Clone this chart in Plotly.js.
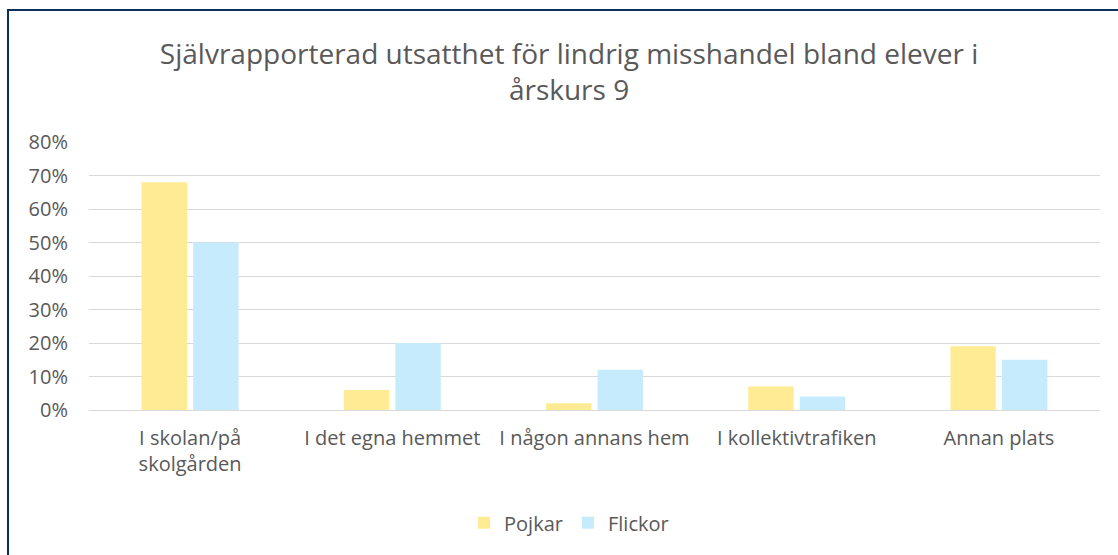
<!DOCTYPE html>
<html>
<head>
<meta charset="utf-8">
<script src="https://cdn.plot.ly/plotly-3.0.1.min.js"></script>
<style>
  html, body { margin: 0; padding: 0; background: #fff; }
  #wrap { position: relative; width: 1118px; height: 555px; overflow: hidden; }
  #chart { position: absolute; left: 0; top: 0; width: 1118px; height: 555px; }
  #frame { position: absolute; left: 7px; top: 9px; width: 1200px; height: 700px;
           border-left: 2px solid #0b2e5b; border-top: 2px solid #0b2e5b; pointer-events: none; }
</style>
</head>
<body>
<div id="wrap">
  <div id="chart"></div>
  <div id="frame"></div>
</div>
<script>
const categories = ["I skolan/på<br>skolgården", "I det egna hemmet", "I någon annans hem", "I kollektivtrafiken", "Annan plats"];
const pojkar = [0.68, 0.06, 0.02, 0.07, 0.19];
const flickor = [0.50, 0.20, 0.12, 0.04, 0.15];
const yTicks = [0, 0.1, 0.2, 0.3, 0.4, 0.5, 0.6, 0.7, 0.8];
const yTickText = ["0%", "10%", "20%", "30%", "40%", "50%", "60%", "70%", "80%"];

const FONT = "'Open Sans', 'Noto Sans', sans-serif";
const GREY = "#595959";

const traces = [
  { type: "bar", name: "Pojkar", x: categories, y: pojkar,
    marker: { color: "#ffeb94" }, hoverinfo: "skip" },
  { type: "bar", name: "Flickor", x: categories, y: flickor,
    marker: { color: "#c5ebfd" }, hoverinfo: "skip" }
];

const layout = {
  width: 1118, height: 555,
  paper_bgcolor: "#ffffff", plot_bgcolor: "#ffffff",
  margin: { l: 89, r: 18, t: 142, b: 145 },
  font: { family: FONT, color: GREY },
  title: {
    text: "Självrapporterad utsatthet för lindrig misshandel bland elever i<br>årskurs 9",
    font: { family: FONT, size: 28, color: GREY },
    x: 0.509, xanchor: "center", xref: "container",
    y: 0.885, yanchor: "top", yref: "container"
  },
  barmode: "group",
  bargap: 0.49,
  bargroupgap: 0.12,
  xaxis: {
    type: "category",
    tickfont: { family: FONT, size: 20, color: GREY },
    showline: true, linecolor: "#d9d9d9", linewidth: 1,
    ticks: "", showgrid: false, automargin: false,
    ticklabelstandoff: 10
  },
  yaxis: {
    range: [0, 0.8],
    tickvals: yTicks, ticktext: yTickText,
    tickfont: { family: FONT, size: 20, color: GREY },
    showgrid: true, gridcolor: "#d9d9d9", gridwidth: 1,
    zeroline: false, showline: false, ticks: "", automargin: false,
    ticklabelstandoff: 20
  },
  showlegend: true,
  legend: {
    orientation: "h", x: 0.509, xanchor: "center",
    xref: "container",
    y: 0.058, yref: "container", yanchor: "middle",
    font: { family: FONT, size: 20, color: GREY },
    itemwidth: 30
  }
};

Plotly.newPlot("chart", traces, layout, { displayModeBar: false, staticPlot: true });
</script>
</body>
</html>
